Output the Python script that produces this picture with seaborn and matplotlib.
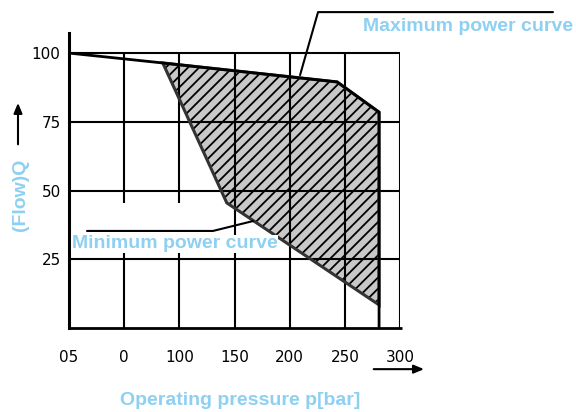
import matplotlib
matplotlib.use("Agg")
import matplotlib.pyplot as plt
import seaborn as sns
import pandas as pd

# Valores
pressao_ticks = [0, 50, 100, 150, 200, 250, 300]
pressao_labels = ["05", "0", "100", "150", "200", "250", "300"]
vazao_ticks = [25, 50, 75, 100]

# Curva de potência máxima (p, Q)
max_p = [0, 85, 243, 281, 281]
max_q = [100, 96.4, 89.5, 78.5, 0]
# Curva de potência mínima
min_p = [85, 143, 281]
min_q = [96.4, 45.5, 8.4]

azul = "#8dd0f2"

sns.set_style("white")
plt.rcParams["hatch.linewidth"] = 1.3
plt.rcParams["font.family"] = ["DejaVu Sans"]

fig = plt.figure(figsize=(5.76, 4.12), dpi=100)
ax = fig.add_axes([0.1198, 0.2039, 0.5747, 0.716])

# área hachurada (por baixo da grade)
poli_p = max_p[1:4] + min_p[::-1]
poli_q = max_q[1:4] + min_q[::-1]
ax.fill(poli_p, poli_q, facecolor="#c8c8c8", edgecolor="black", hatch="///",
        lw=0, zorder=2)

# grade por cima da área
ax.hlines(vazao_ticks, 0, 300, color="black", lw=1.5, zorder=3)
ax.vlines(pressao_ticks[1:], 0, 100, color="black", lw=1.5, zorder=3)
ax.hlines(0, 0, 302, color="black", lw=2, zorder=3, clip_on=False)

ax.fill(poli_p, poli_q, facecolor="none", edgecolor="#333333", lw=2.2,
        zorder=4)

df_max = pd.DataFrame({"p": max_p, "Q": max_q})
sns.lineplot(data=df_max, x="p", y="Q", sort=False, estimator=None,
             color="black", lw=2, ax=ax, zorder=5)

ax.set_xlim(0, 300)
ax.set_ylim(0, 107.3)
ax.set_xticks(pressao_ticks)
ax.set_xticklabels(pressao_labels)
ax.set_yticks(vazao_ticks)
ax.tick_params(axis="both", length=0, labelsize=11, labelcolor="black")
ax.tick_params(axis="x", pad=16)
ax.tick_params(axis="y", pad=6)
ax.set_xlabel("")
ax.set_ylabel("")
for s in ["top", "right", "bottom"]:
    ax.spines[s].set_visible(False)
ax.spines["left"].set_linewidth(2.2)
ax.spines["left"].set_color("black")

# legendas com linhas de chamada
ax.plot([438.6, 225.7, 209.4], [114.9, 114.9, 92], color="black", lw=1.5,
        clip_on=False, zorder=6)
ax.text(456.5, 109.5, "Maximum power curve", color=azul, fontsize=14,
        fontweight="bold", family="Liberation Sans", ha="right", va="center")

ax.add_patch(plt.Rectangle((18, 27.3), 117, 18.2, facecolor="white",
                           edgecolor="none", zorder=3.5))
ax.plot([16.3, 130.5, 166.8], [35.3, 35.3, 38.9], color="black", lw=1.5,
        zorder=6)
ax.text(2.5, 30.6, "Minimum power curve", color=azul, fontsize=14,
        fontweight="bold", family="Liberation Sans", ha="left", va="center",
        zorder=6, bbox=dict(facecolor="white", edgecolor="none", pad=0.5))

# rótulos dos eixos e setas
fig.text(0.036, 0.527, "(Flow)Q", rotation=90, color=azul, fontsize=14,
         fontweight="bold", family="Liberation Sans", ha="center", va="center")
fig.text(0.4167, 0.027, "Operating pressure p[bar]", color=azul, fontsize=14,
         fontweight="bold", family="Liberation Sans", ha="center", va="center")
fig.patches.append(matplotlib.patches.FancyArrowPatch(
    (0.03125, 0.643), (0.03125, 0.757), transform=fig.transFigure,
    arrowstyle="-|>,head_length=6,head_width=2.5", color="black", lw=1.5))
fig.patches.append(matplotlib.patches.FancyArrowPatch(
    (0.644, 0.104), (0.741, 0.104), transform=fig.transFigure,
    arrowstyle="-|>,head_length=6,head_width=2.5", color="black", lw=1.5))

fig.savefig("out.png", dpi=100)
